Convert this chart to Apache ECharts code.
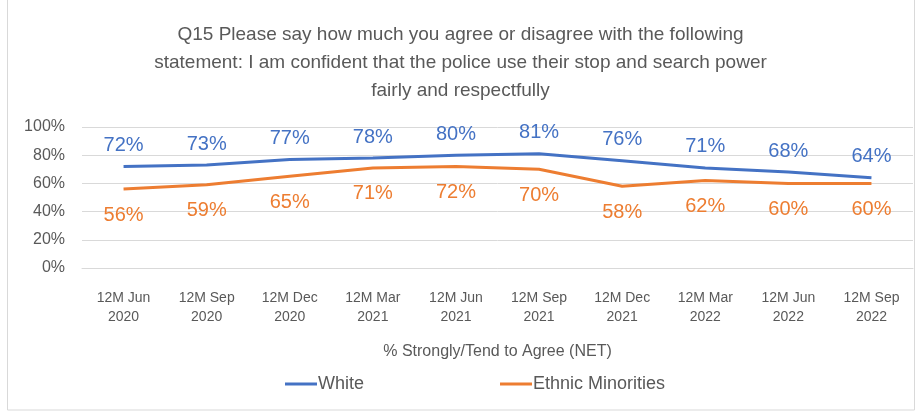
<!DOCTYPE html>
<html>
<head>
<meta charset="utf-8">
<script src="https://cdn.jsdelivr.net/npm/echarts@6/dist/echarts.min.js"></script>
<style>
  html, body { margin: 0; padding: 0; background: #fff; }
  #chart { width: 921px; height: 414px; }
</style>
</head>
<body>
<div id="chart"></div>
<script>
// Survey periods (rolling 12 months)
const categories = [
  '12M Jun\n2020', '12M Sep\n2020', '12M Dec\n2020', '12M Mar\n2021', '12M Jun\n2021',
  '12M Sep\n2021', '12M Dec\n2021', '12M Mar\n2022', '12M Jun\n2022', '12M Sep\n2022'
];
// % Strongly/Tend to Agree (NET)
const whiteValues = [72, 73, 77, 78, 80, 81, 76, 71, 68, 64];
const minorityValues = [56, 59, 65, 71, 72, 70, 58, 62, 60, 60];
const yTicks = [0, 20, 40, 60, 80, 100];

const FONT = 'Liberation Sans, Arial, sans-serif';
const TEXT = '#595959';

const chart = echarts.init(document.getElementById('chart'));
chart.setOption({
  animation: false,
  textStyle: { fontFamily: FONT },
  title: {
    text: 'Q15 Please say how much you agree or disagree with the following\nstatement: I am confident that the police use their stop and search power\nfairly and respectfully',
    left: 'center',
    top: 16,
    textStyle: { fontSize: 19, fontWeight: 'normal', color: TEXT, lineHeight: 28, fontFamily: FONT }
  },
  graphic: [{
    type: 'rect',
    shape: { x: 7.5, y: -2, width: 907, height: 412 },
    style: { fill: 'none', stroke: '#d9d9d9', lineWidth: 1 },
    silent: true
  }],
  legend: {
    bottom: 16,
    left: 280,
    itemGap: 136,
    itemWidth: 32,
    itemHeight: 3,
    icon: 'rect',
    textStyle: { fontSize: 18, color: TEXT, fontFamily: FONT, padding: [0, 0, 0, -4] },
    data: ['White', 'Ethnic Minorities']
  },
  grid: { left: 82, right: 8, top: 127, bottom: 146 },
  xAxis: {
    type: 'category',
    data: categories,
    boundaryGap: true,
    axisLine: { show: true, lineStyle: { color: '#d9d9d9' } },
    axisTick: { show: false },
    axisLabel: { color: TEXT, fontSize: 14, lineHeight: 19, margin: 21, interval: 0, fontFamily: FONT },
    name: '% Strongly/Tend to Agree (NET)',
    nameLocation: 'middle',
    nameGap: 76,
    nameTextStyle: { color: TEXT, fontSize: 16, fontFamily: FONT }
  },
  yAxis: {
    type: 'value',
    min: yTicks[0],
    max: yTicks[yTicks.length - 1],
    interval: 20,
    axisLine: { show: false },
    axisTick: { show: false },
    splitLine: { lineStyle: { color: '#d9d9d9', width: 1 } },
    axisLabel: { color: TEXT, fontSize: 16, margin: 17, formatter: '{value}%', fontFamily: FONT }
  },
  series: [
    {
      name: 'White',
      type: 'line',
      data: whiteValues,
      symbol: 'circle',
      symbolSize: 0,
      showSymbol: true,
      lineStyle: { color: '#4472c4', width: 3 },
      itemStyle: { color: '#4472c4' },
      label: {
        show: true, position: 'top', distance: 11, formatter: '{c}%',
        color: '#4472c4', fontSize: 20, fontFamily: FONT
      }
    },
    {
      name: 'Ethnic Minorities',
      type: 'line',
      data: minorityValues,
      symbol: 'circle',
      symbolSize: 0,
      showSymbol: true,
      lineStyle: { color: '#ed7d31', width: 3 },
      itemStyle: { color: '#ed7d31' },
      label: {
        show: true, position: 'bottom', distance: 16, formatter: '{c}%',
        color: '#ed7d31', fontSize: 20, fontFamily: FONT
      }
    }
  ]
});
</script>
</body>
</html>
